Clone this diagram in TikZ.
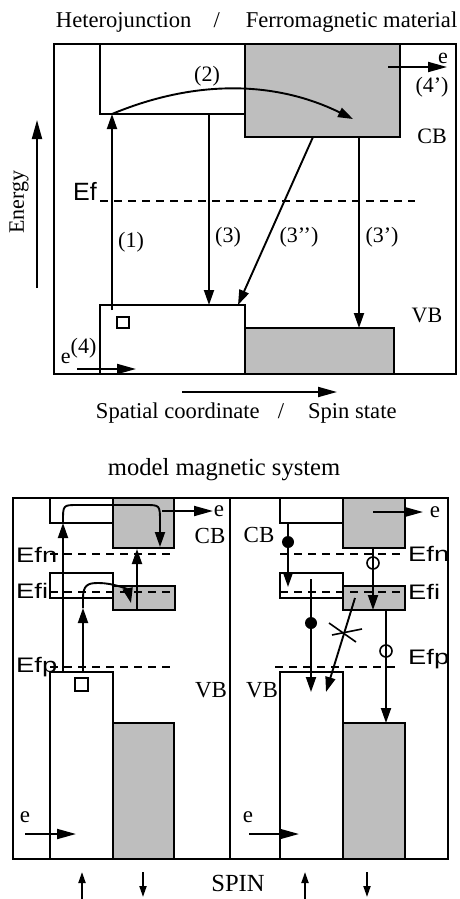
\documentclass[tikz,border=0pt]{standalone}
\usepackage{fontspec}
\setmainfont{Liberation Serif}
\setsansfont{Liberation Sans}
\usetikzlibrary{arrows.meta}
\definecolor{bandgray}{RGB}{190,190,190}
\begin{document}
\begin{tikzpicture}[x=1pt,y=-1pt,line width=1.9pt,
  tip/.style={-{Triangle[length=15pt,width=10pt]}},
  ltip/.style={-{Triangle[length=19pt,width=10pt]}},
  stip/.style={-{Triangle[length=11pt,width=7pt]}},
  gbox/.style={draw,fill=bandgray},
  wbox/.style={draw,fill=white},
  fermi/.style={dash pattern=on 8pt off 6pt,line width=1.7pt},
  lbl/.style={font=\fontsize{22}{22}\selectfont,inner sep=0pt},
  tlbl/.style={font=\fontsize{22.6}{22.6}\selectfont,inner sep=0pt},
  blbl/.style={font=\fontsize{23}{23}\selectfont,inner sep=0pt},
  eflbl/.style={font=\sffamily\fontsize{25}{25}\selectfont,inner sep=0pt},
  efblbl/.style={font=\sffamily\fontsize{21}{21}\selectfont,inner sep=0pt,xscale=1.3},
  dot/.style={fill=black},
  hole/.style={draw,line width=1.6pt}]
\fill[white] (0,0) rectangle (460,899);
\useasboundingbox (0,0) rectangle (460,899);

% ================= TOP PANEL =================
\node[tlbl,anchor=base west] (title) at (55,28) {Heterojunction\hspace{22pt}/\hspace{26pt}Ferromagnetic material};
\draw (54,44) rectangle (456,374);
\draw[wbox] (100,44) rectangle (245,114);
\draw[gbox] (245,44) rectangle (400,137);
\draw[wbox] (100,305) rectangle (245,374);
\draw[gbox] (245,328) rectangle (394,374);
\draw[line width=1.6pt] (117,317) rectangle (129,328);
\node[eflbl] (ef) at (85,191) {Ef};
\draw[fermi] (100,201) -- (415,201);

\coordinate (p1s) at (112,310);
\coordinate (p1e) at (112,114);
\coordinate (p2e) at (353,119);
\coordinate (p3s) at (209,114);
\coordinate (p3e) at (209,305);
\coordinate (p3bs) at (313,137);
\coordinate (p3be) at (238,305);
\coordinate (p3as) at (359,137);
\coordinate (p3ae) at (359,328);
\draw[tip] (p1s) -- (p1e);
\draw[tip] (p1e) .. controls (196,79) and (276,81) .. (p2e);
\draw[tip] (p3s) -- (p3e);
\draw[tip] (p3bs) -- (p3be);
\draw[tip] (p3as) -- (p3ae);
\node[lbl] (l1) at (131,242) {(1)};
\node[lbl] (l2) at (207,76) {(2)};
\node[lbl] (l3) at (228,237) {(3)};
\node[lbl] (l3b) at (299,237) {(3’’)};
\node[lbl] (l3a) at (382,237) {(3’)};

\coordinate (e4s) at (388,67);
\coordinate (e4e) at (447,67);
\draw[ltip] (e4s) -- (e4e);
\node[lbl] (etop) at (443,58) {e};
\node[lbl] (l4a) at (432,87) {(4’)};
\node[lbl] (cbtop) at (432,136) {CB};
\node[lbl] (vbtop) at (427,315) {VB};
\node[lbl,anchor=base west] (e4) at (60,363) {e\raisebox{10pt}{(4)}};
\coordinate (e4ls) at (77,369);
\coordinate (e4le) at (136,369);
\draw[ltip] (e4ls) -- (e4le);

\coordinate (ens) at (37,288);
\coordinate (ene) at (37,120);
\draw[ltip] (ens) -- (ene);
\node[lbl,rotate=90] (energy) at (19,202) {Energy};
\coordinate (sps) at (182,392);
\coordinate (spe) at (337,392);
\draw[ltip] (sps) -- (spe);
\node[tlbl,anchor=base west] (spatial) at (95,418) {Spatial coordinate\hspace{18pt}/\hspace{24pt}Spin state};

% ================= BOTTOM PANEL =================
\node[font=\fontsize{24.6}{24.6}\selectfont,inner sep=0pt,anchor=base west] (model) at (107,475) {model magnetic system};
\draw (13,498) rectangle (448,859);
\draw (230,498) -- (230,859);

% left half
\draw[wbox] (50,498) rectangle (113,523);
\draw[gbox] (113,498) rectangle (174,548);
\draw[wbox] (50,573) rectangle (113,598);
\draw[gbox] (113,586) rectangle (175,610);
\draw[wbox] (50,672) rectangle (113,859);
\draw[gbox] (113,723) rectangle (174,859);
\draw[line width=1.6pt] (75,678) rectangle (88,691);
\draw[fermi] (50,554) -- (175,554);
\draw[fermi] (50,592) -- (175,592);
\draw[fermi] (50,667) -- (175,667);
\node[efblbl,anchor=base west] (efnl) at (15,562) {Efn};
\node[efblbl,anchor=base west] (efil) at (15,598) {Efi};
\node[efblbl,anchor=base west] (efpl) at (15,672) {Efp};
\node[blbl] (cbl) at (210,536) {CB};
\node[blbl] (vbl) at (211,690) {VB};

\coordinate (a1s) at (63,672);
\coordinate (a1m) at (63,523);
\coordinate (a1e) at (160,547);
\draw[tip] (a1s) -- (a1m);
\draw[tip] (a1m) -- (63,521) .. controls (63,505) .. (78,505) -- (145,505) .. controls (160,505) .. (160,522) -- (a1e);
\coordinate (a2s) at (83,672);
\coordinate (a2m) at (83,608);
\coordinate (a2e) at (131,603);
\draw[tip] (a2s) -- (a2m);
\draw[tip] (a2m) -- (83,598) .. controls (83,585) and (88,583) .. (98,583) .. controls (115,583) and (128,590) .. (a2e);
\coordinate (a3s) at (137,610);
\coordinate (a3e) at (137,549);
\draw[tip] (a3s) -- (a3e);

\coordinate (elts) at (162,511);
\coordinate (elte) at (213,511);
\draw[ltip] (elts) -- (elte);
\node[blbl] (elt) at (219,511) {e};
\coordinate (elbs) at (25,834);
\coordinate (elbe) at (76,834);
\draw[ltip] (elbs) -- (elbe);
\node[blbl] (elb) at (25,817) {e};

% right half
\draw[wbox] (280,498) rectangle (343,523);
\draw[gbox] (343,498) rectangle (405,548);
\draw[wbox] (280,573) rectangle (343,598);
\draw[gbox] (343,586) rectangle (405,610);
\draw[wbox] (280,672) rectangle (343,859);
\draw[gbox] (343,723) rectangle (405,859);
\draw[fermi] (280,554) -- (405,554);
\draw[fermi] (280,592) -- (405,592);
\draw[fermi] (275,667) -- (400,667);
\node[efblbl,anchor=base west] (efnr) at (407,561) {Efn};
\node[efblbl,anchor=base west] (efir) at (407,599) {Efi};
\node[efblbl,anchor=base west] (efpr) at (407,664) {Efp};
\node[blbl] (cbr) at (259,535) {CB};
\node[blbl] (vbr) at (262,690) {VB};

\coordinate (r1s) at (288,523);
\coordinate (r1e) at (288,587);
\draw[tip] (r1s) -- (r1e);
\fill[dot] (288,542) circle[radius=6pt];
\coordinate (r2s) at (373,548);
\coordinate (r2e) at (373,610);
\draw[tip] (r2s) -- (r2e);
\draw[hole] (373,563) circle[radius=6pt];
\coordinate (r3s) at (311,579);
\coordinate (r3e) at (311,692);
\draw[tip] (r3s) -- (r3e);
\fill[dot] (311,623) circle[radius=6pt];
\coordinate (r4s) at (355,598);
\coordinate (r4e) at (326,692);
\draw[tip] (r4s) -- (r4e);
\draw[line width=1.6pt] (329,623) -- (356,642);
\draw[line width=1.6pt] (332,635) -- (362,629);
\coordinate (r5s) at (386,610);
\coordinate (r5e) at (386,723);
\draw[tip] (r5s) -- (r5e);
\draw[hole] (386,651) circle[radius=6pt];

\coordinate (erts) at (373,512);
\coordinate (erte) at (423,512);
\draw[ltip] (erts) -- (erte);
\node[blbl] (ert) at (435,512) {e};
\coordinate (erbs) at (249,834);
\coordinate (erbe) at (299,834);
\draw[ltip] (erbs) -- (erbe);
\node[blbl] (erb) at (248,817) {e};

% spin arrows
\node[font=\fontsize{24.6}{24.6}\selectfont,inner sep=0pt] (spin) at (238,883) {SPIN};
\coordinate (su1s) at (82,899);
\coordinate (su1e) at (82,872);
\coordinate (sd1s) at (143,872);
\coordinate (sd1e) at (143,897);
\coordinate (su2s) at (305,899);
\coordinate (su2e) at (305,872);
\coordinate (sd2s) at (367,872);
\coordinate (sd2e) at (367,897);
\draw[stip] (su1s) -- (su1e);
\draw[stip] (sd1s) -- (sd1e);
\draw[stip] (su2s) -- (su2e);
\draw[stip] (sd2s) -- (sd2e);
\end{tikzpicture}
\end{document}
